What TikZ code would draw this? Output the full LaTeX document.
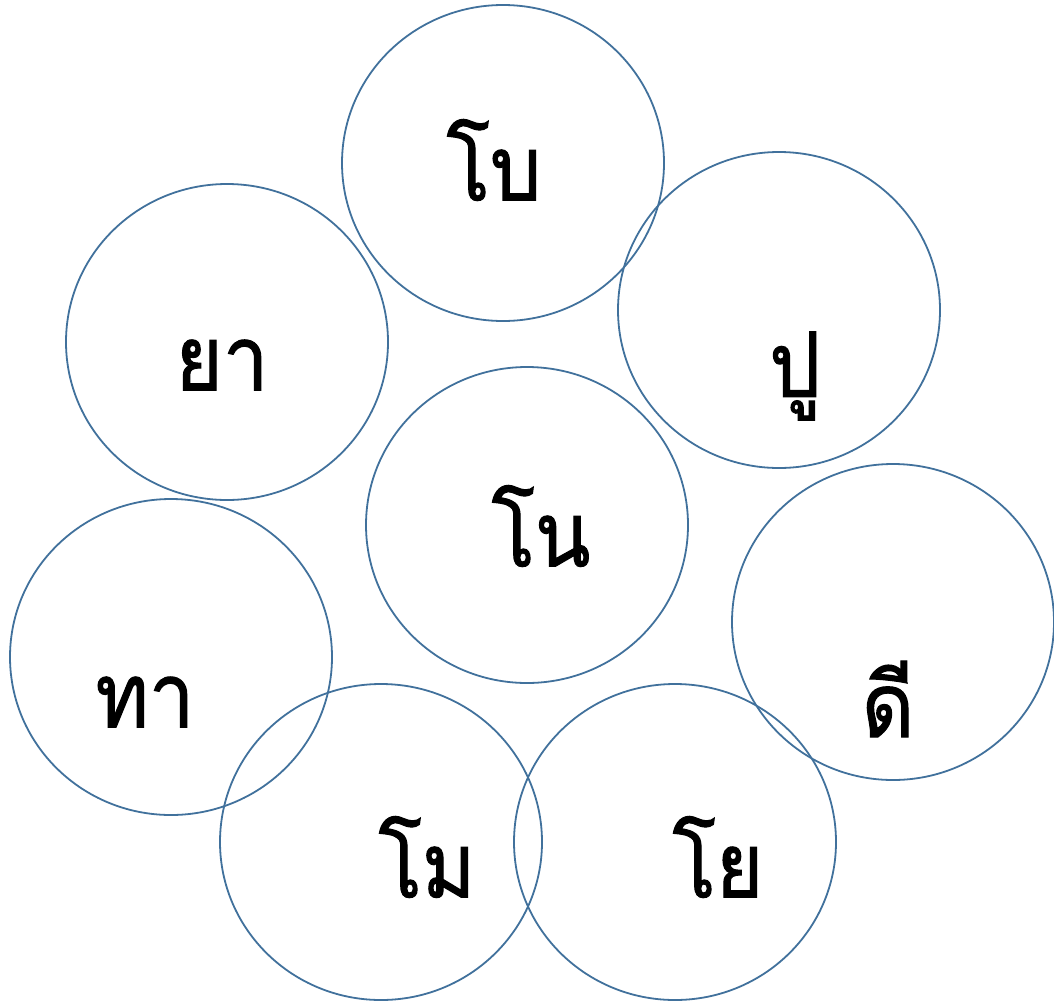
\documentclass[tikz,border=0pt]{standalone}
\usepackage{fontspec}
\newfontfamily\thaifont[Script=Thai,FakeStretch=0.9,FakeBold=1.2]{Loma}
\definecolor{ring}{RGB}{65,113,156}
\begin{document}
\begin{tikzpicture}[x=1pt,y=-1pt,
  bub/.style={draw=ring,line width=1.8pt},
  lab/.style={font=\thaifont\fontsize{90}{92}\selectfont,inner sep=0pt}]
\useasboundingbox (0,0) rectangle (1054,1001);
\draw[bub] (503,163) ellipse [x radius=161,y radius=158];
\draw[bub] (779,310) ellipse [x radius=161,y radius=158];
\draw[bub] (227,342) ellipse [x radius=161,y radius=158];
\draw[bub] (527,525) ellipse [x radius=161,y radius=158];
\draw[bub] (893,622) ellipse [x radius=161,y radius=158];
\draw[bub] (171,657) ellipse [x radius=161,y radius=158];
\draw[bub] (381,842) ellipse [x radius=161,y radius=158];
\draw[bub] (675,842) ellipse [x radius=161,y radius=158];
\node[lab] (t1) at (494,160) {โบ};
\node[lab] (t2) at (795,376) {ปู};
\node[lab] (t3) at (222,365) {ยา};
\node[lab] (t4) at (541,526) {โน};
\node[lab] (t5) at (888,699) {ดี};
\node[lab] (t6) at (145,702) {ทา};
\node[lab] (t7) at (427,857) {โม};
\node[lab] (t8) at (718,857) {โย};
\end{tikzpicture}
\end{document}
